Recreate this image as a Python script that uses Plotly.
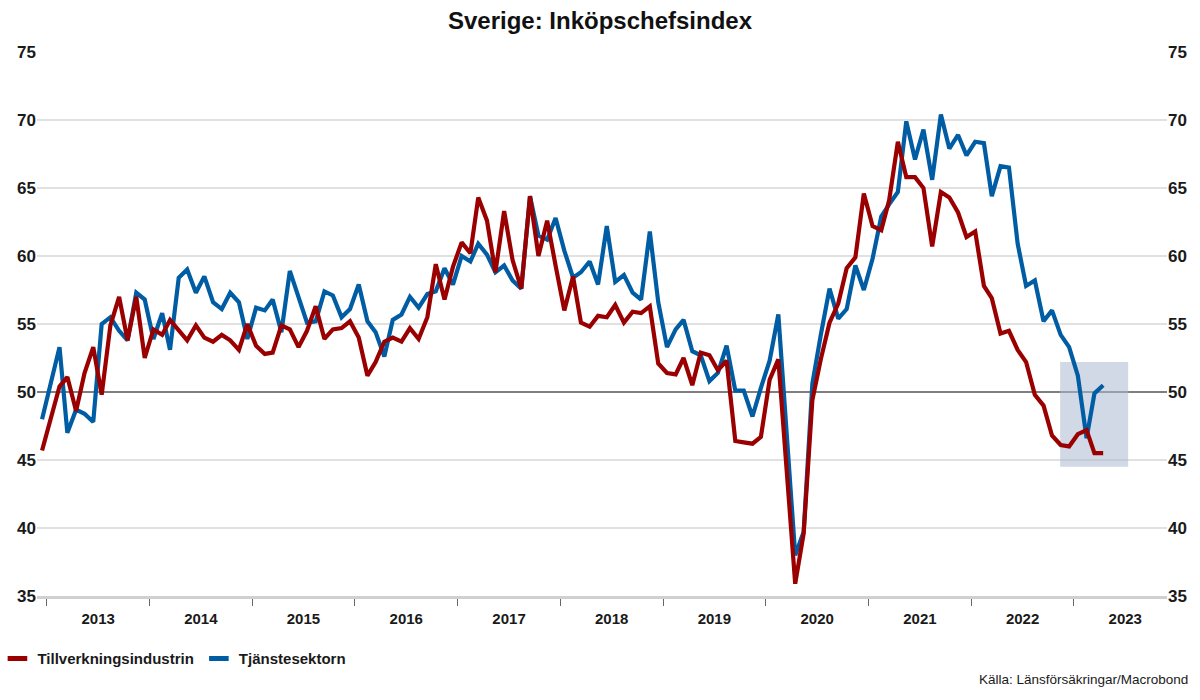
import pandas as pd
import plotly.graph_objects as go

# Monthly data, Dec 2012 .. Apr 2023
start_month = "2012-12-01"
n_months = 125

tillverkning = [
    45.7, 48.1, 50.4, 51.1, 48.6, 51.4, 53.3, 49.8, 54.9, 57.0, 53.8, 57.0, 52.5,
    54.6, 54.2, 55.3, 54.5, 53.8, 54.9, 54.0, 53.7, 54.2, 53.8, 53.1, 55.0,
    53.4, 52.8, 52.9, 54.9, 54.6, 53.3, 54.5, 56.3, 53.9, 54.6, 54.7, 55.2,
    54.0, 51.2, 52.2, 53.7, 54.0, 53.7, 54.7, 53.9, 55.5, 59.4, 56.8, 59.2,
    61.0, 60.2, 64.3, 62.6, 58.8, 63.3, 59.7, 57.6, 64.4, 60.0, 62.6, 59.3,
    56.0, 58.5, 55.1, 54.8, 55.6, 55.5, 56.4, 55.1, 55.9, 55.8, 56.3, 52.1,
    51.4, 51.3, 52.5, 50.5, 52.9, 52.7, 51.6, 52.3, 46.4, 46.3, 46.2, 46.7,
    50.9, 52.4, 44.2, 35.9, 39.6, 49.4, 52.4, 55.1, 56.5, 59.1, 59.9, 64.6,
    62.2, 61.9, 64.1, 68.4, 65.8, 65.8, 65.0, 60.7, 64.7, 64.3, 63.2, 61.4,
    61.8, 57.8, 56.9, 54.3, 54.5, 53.1, 52.2, 49.8, 49.0, 46.8, 46.1, 46.0,
    46.9, 47.2, 45.5, 45.5,
]

tjanster = [
    48.0, 50.6, 53.3, 47.0, 48.7, 48.4, 47.8, 55.0, 55.5, 54.5, 53.8, 57.3, 56.8,
    53.9, 55.8, 53.1, 58.4, 59.0, 57.3, 58.5, 56.6, 56.1, 57.3, 56.6, 53.9,
    56.2, 56.0, 56.8, 54.4, 58.9, 57.0, 55.1, 55.2, 57.4, 57.1, 55.5, 56.1,
    57.9, 55.2, 54.4, 52.6, 55.3, 55.7, 57.0, 56.2, 57.2, 57.4, 59.1, 57.9,
    60.0, 59.6, 60.9, 60.1, 58.8, 59.3, 58.2, 57.6, 64.4, 61.5, 61.2, 62.8,
    60.4, 58.4, 58.8, 59.6, 57.9, 62.2, 58.1, 58.6, 57.3, 56.8, 61.8, 56.6,
    53.3, 54.6, 55.3, 53.0, 52.7, 50.8, 51.4, 53.4, 50.1, 50.1, 48.2, 50.3,
    52.3, 55.7, 46.9, 38.0, 39.7, 50.6, 54.2, 57.6, 55.4, 56.1, 59.3, 57.5,
    59.8, 62.9, 63.8, 64.7, 69.9, 67.1, 69.3, 65.6, 70.4, 67.9, 68.9, 67.4,
    68.4, 68.3, 64.4, 66.6, 66.5, 60.9, 57.8, 58.2, 55.2, 56.0, 54.2, 53.3,
    51.2, 46.6, 49.9, 50.5,
]

series_names = ["Tillverkningsindustrin", "Tjänstesektorn"]
y_ticks = [35, 40, 45, 50, 55, 60, 65, 70, 75]
y_ticktext = ["<b>%d</b>" % v for v in y_ticks]
grid_values = [40, 45, 50, 55, 60, 65, 70]
highlight_x = ["2022-11-13", "2023-07-13"]
highlight_y = [44.5, 52.2]

RED = "#9a0000"
BLUE = "#005da4"
FONT = "Liberation Sans, Arial, sans-serif"

dates = pd.date_range(start_month, periods=n_months, freq="MS") + pd.Timedelta(days=14)

fig = go.Figure()

fig.add_trace(go.Scatter(x=dates, y=tjanster, mode="lines", name=series_names[1],
                         line=dict(color=BLUE, width=4.2), showlegend=False))
fig.add_trace(go.Scatter(x=dates, y=tillverkning, mode="lines", name=series_names[0],
                         line=dict(color=RED, width=4.2), showlegend=False))
# invisible trace to activate the right-hand axis
fig.add_trace(go.Scatter(x=dates, y=tjanster, mode="lines", yaxis="y2",
                         line=dict(width=0), opacity=0, hoverinfo="skip",
                         showlegend=False))
# legend entries (short bar symbols)
for nm, col in zip(series_names, [RED, BLUE]):
    fig.add_trace(go.Scatter(x=[None], y=[None], mode="markers", name=nm,
                             marker=dict(symbol="line-ew", size=14,
                                         line=dict(color=col, width=5))))

shapes = []
for g in grid_values:
    shapes.append(dict(type="line", xref="paper", yref="y", x0=0, x1=1, y0=g, y1=g,
                       line=dict(color="#000000" if g == 50 else "#c4c4c4",
                                 width=1.2),
                       layer="below"))
shapes.append(dict(type="rect", xref="x", yref="y",
                   x0=highlight_x[0], x1=highlight_x[1],
                   y0=highlight_y[0], y1=highlight_y[1],
                   fillcolor="rgba(170,186,208,0.55)", line=dict(width=0),
                   layer="below"))

fig.update_layout(
    width=1200, height=700,
    margin=dict(l=37, r=33, t=52, b=104, autoexpand=False),
    paper_bgcolor="white", plot_bgcolor="white",
    font=dict(family=FONT, size=15, color="#1a1a1a"),
    title=dict(text="<b>Sverige: Inköpschefsindex</b>", x=0.5, xanchor="center",
               y=0.97, yanchor="middle", font=dict(size=24, color="#111111")),
    shapes=shapes,
    xaxis=dict(type="date", range=["2012-11-27", "2023-11-28"],
               showgrid=False, zeroline=False, automargin=False,
               showline=True, linecolor="#d0d0d0", linewidth=3,
               ticks="outside", ticklen=7, tickwidth=1, tickcolor="#666666",
               dtick="M12", tick0="2013-01-01", tickformat="<b>%Y</b>",
               ticklabelmode="period",
               tickfont=dict(family=FONT, size=15, color="#1a1a1a")),
    yaxis=dict(range=[35, 75], tickvals=y_ticks, ticktext=y_ticktext,
               showgrid=False, zeroline=False, automargin=False,
               showline=False, ticks="",
               tickfont=dict(family=FONT, size=17, color="#1a1a1a")),
    yaxis2=dict(range=[35, 75], tickvals=y_ticks, ticktext=y_ticktext,
                overlaying="y", side="right", automargin=False,
                showgrid=False, zeroline=False, showline=False, ticks="",
                tickfont=dict(family=FONT, size=17, color="#1a1a1a")),
    legend=dict(orientation="h", x=-0.035, xanchor="left", y=-0.085, yanchor="top",
                font=dict(family=FONT, size=15, color="#1a1a1a", weight="bold"),
                itemwidth=30, tracegroupgap=0, bgcolor="rgba(0,0,0,0)"),
    annotations=[dict(text="Källa: Länsförsäkringar/Macrobond", xref="paper",
                      yref="paper", x=1.0204, xanchor="right", y=-0.154,
                      yanchor="middle", showarrow=False,
                      font=dict(family=FONT, size=13.5, color="#1a1a1a"))],
)

fig.write_html("out.html",
               config={"displayModeBar": False},
               post_script="document.body.style.margin='0px';"
                           "document.body.style.overflow='hidden';")
